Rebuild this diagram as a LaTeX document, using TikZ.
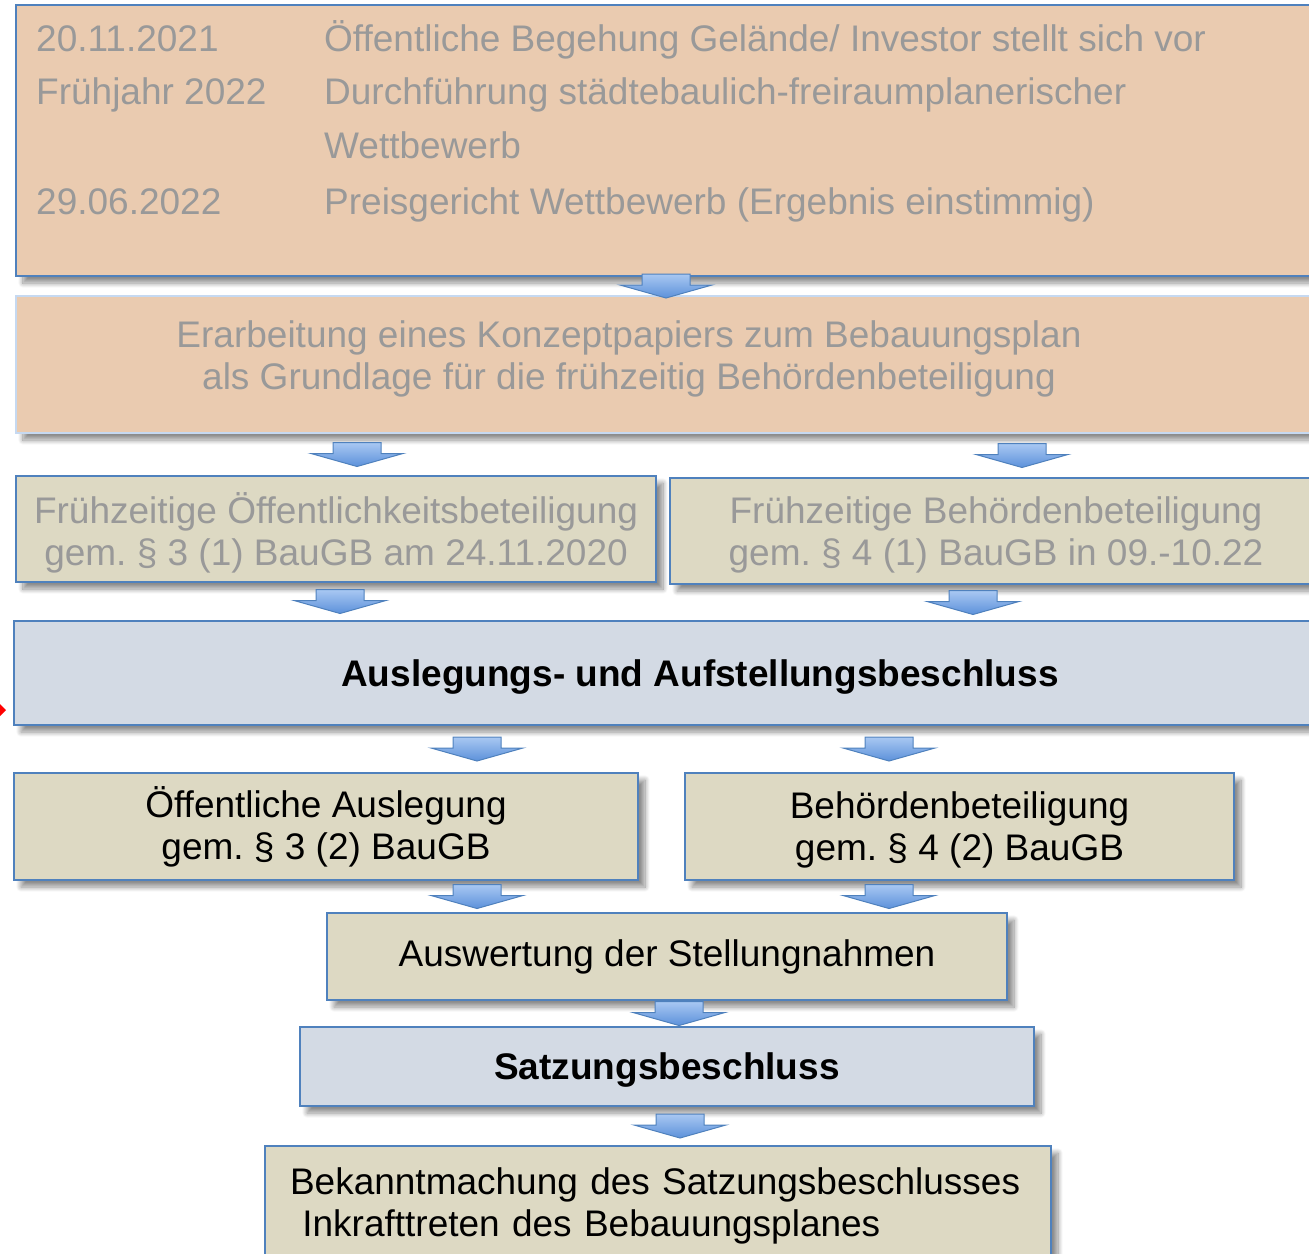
\documentclass[tikz,border=0pt]{standalone}
\usepackage{fontspec}
\setmainfont{Liberation Sans}
\usetikzlibrary{calc,shadows.blur}
\frenchspacing

\definecolor{boxpeach}{HTML}{EACBB0}
\definecolor{boxtan}{HTML}{DDD9C3}
\definecolor{boxblue}{HTML}{D3DAE4}
\definecolor{lineblue}{HTML}{4F81BD}
\definecolor{linelight}{HTML}{C6D9F1}
\definecolor{arrowtop}{HTML}{A9C8F2}
\definecolor{arrowbot}{HTML}{5C91DA}
\definecolor{greytxt}{HTML}{999999}

\tikzset{
    every node/.style={font=\fontsize{37}{42}\selectfont},
    shade/.style={blur shadow={shadow xshift=7pt, shadow yshift=-7pt, shadow blur radius=5pt, shadow blur steps=10, shadow opacity=45}},
    peachbox/.style={shade, draw=lineblue, line width=1.2pt, fill=boxpeach},
    tanbox/.style={shade, draw=lineblue, line width=1.2pt, fill=boxtan, align=center},
    bluebox/.style={shade, draw=lineblue, line width=1.2pt, fill=boxblue, align=center},
    greytext/.style={text=greytxt, inner sep=0pt},
    blockarrow/.style={draw=lineblue, line width=1pt, top color=arrowtop, bottom color=arrowbot}
}

% block arrow at x, centred in the gap between two nodes
\newcommand{\flowarrow}[3]{%
    \coordinate (fa-x) at (#1,0);
    \coordinate (fa-top) at (fa-x |- #2.south);
    \coordinate (fa-bot) at (fa-x |- #3.north);
    \coordinate (fa-mid) at ($(fa-top)!0.5!(fa-bot)$);
    \draw[blockarrow] ($(fa-mid)+(-24,-12)$) -- ($(fa-mid)+(24,-12)$) -- ($(fa-mid)+(24,-1)$)
        -- ($(fa-mid)+(46,-1)$) -- ($(fa-mid)+(0,12)$) -- ($(fa-mid)+(-46,-1)$)
        -- ($(fa-mid)+(-24,-1)$) -- cycle;
}

\begin{document}
\begin{tikzpicture}[x=1pt, y=-1pt]

    % Page
    \useasboundingbox (0,0) rectangle (1309,1253);

    % Timeline box
    \node[peachbox, minimum width=1314, minimum height=271] (plan) at (673,140.5) {};
    \node[greytext, anchor=base west] (d1) at (36,51) {20.11.2021};
    \node[greytext, anchor=base west] (d2) at (36,104) {Frühjahr 2022};
    \node[greytext, anchor=base west] (d3) at (36,214) {29.06.2022};
    \node[greytext, anchor=base west] (t1) at (324,51) {Öffentliche Begehung Gelände/ Investor stellt sich vor};
    \node[greytext, anchor=base west] (t2) at (324,104) {Durchführung städtebaulich-freiraumplanerischer};
    \node[greytext, anchor=base west] (t3) at (324,158) {Wettbewerb};
    \node[greytext, anchor=base west] (t4) at (324,214) {Preisgericht Wettbewerb (Ergebnis einstimmig)};

    % Concept paper
    \node[peachbox, draw=linelight, minimum width=1314, minimum height=137] (konzept) at (673,364.5) {};
    \node[greytext, align=center] (konzepttxt) at (629,359) {Erarbeitung eines Konzeptpapiers zum Bebauungsplan\\als Grundlage für die frühzeitig Behördenbeteiligung};

    % Early participation
    \node[tanbox, text=greytxt, text depth=0pt, minimum width=640, minimum height=106] (fruehoeff) at (336,529)
        {Frühzeitige Öffentlichkeitsbeteiligung\\gem. § 3 (1) BauGB am 24.11.2020};
    \node[tanbox, text=greytxt, text depth=0pt, minimum width=652, minimum height=106] (fruehbeh) at (996,531)
        {Frühzeitige Behördenbeteiligung\\gem. § 4 (1) BauGB in 09.-10.22};

    % Resolution
    \node[bluebox, font=\fontsize{37}{42}\selectfont\bfseries, text depth=0pt, minimum width=1372, minimum height=104] (beschluss) at (700,673)
        {Auslegungs- und Aufstellungsbeschluss};

    % Formal participation
    \node[tanbox, minimum width=624, minimum height=107] (auslegung) at (326,826.5)
        {Öffentliche Auslegung\\gem. § 3 (2) BauGB};
    \node[tanbox, text depth=0pt, minimum width=549, minimum height=107] (behoerden) at (959.5,826.5)
        {Behördenbeteiligung\\gem. § 4 (2) BauGB};

    \node[tanbox, minimum width=680, minimum height=87] (auswertung) at (667,956.5)
        {Auswertung der Stellungnahmen};
    \node[bluebox, font=\fontsize{37}{42}\selectfont\bfseries, text depth=0pt, minimum width=734, minimum height=79] (satzung) at (667,1066.5)
        {Satzungsbeschluss};
    \node[tanbox, align=left, text width=736, inner xsep=25pt, minimum height=119] (bekannt) at (658,1205.5)
        {Bekanntmachung des Satzungsbeschlusses\\\ Inkrafttreten des Bebauungsplanes};

    % Arrows
    \foreach \xa/\up/\lo in {666/plan/konzept, 357/konzept/fruehoeff, 1022/konzept/fruehbeh,
        340/fruehoeff/beschluss, 973/fruehbeh/beschluss, 477/beschluss/auslegung, 889/beschluss/behoerden,
        477/auslegung/auswertung, 889/behoerden/auswertung, 679/auswertung/satzung, 680/satzung/bekannt}
        \flowarrow{\xa}{\up}{\lo};

    % Red mark at the left edge
    \fill[red] (0,704) -- (6,710) -- (0,716) -- cycle;

\end{tikzpicture}
\end{document}
